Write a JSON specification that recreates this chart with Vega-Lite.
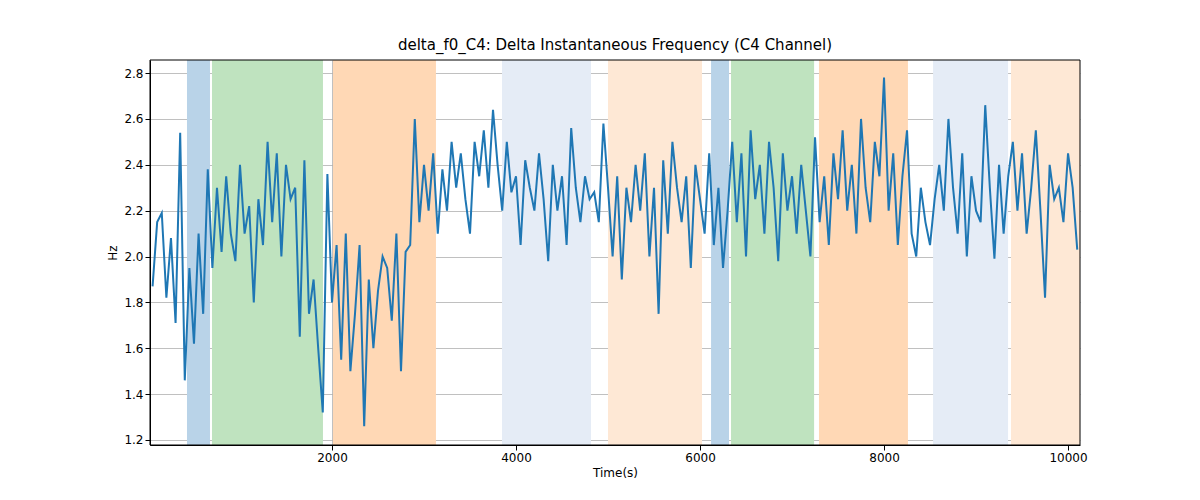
{
  "$schema": "https://vega.github.io/schema/vega-lite/v6.json",
  "width": 930,
  "height": 385,
  "autosize": {"type": "none"},
  "padding": {"left": 150, "top": 60, "right": 120, "bottom": 55},
  "background": "white",
  "title": {"text": "delta_f0_C4: Delta Instantaneous Frequency (C4 Channel)", "font": "DejaVu Sans", "fontSize": 15, "fontWeight": "normal", "color": "black", "offset": 7},
  "config": {
    "view": {"stroke": null},
    "axis": {"labelFont": "DejaVu Sans", "titleFont": "DejaVu Sans", "labelFontSize": 12, "titleFontSize": 12, "titleFontWeight": "normal", "labelColor": "black", "titleColor": "black", "gridColor": "#b0b0b0", "gridWidth": 0.8, "tickColor": "black", "domainColor": "black", "zindex": 1}
  },
  "datasets": {
    "bands": [
      {"a": 424, "b": 674, "kind": "blue"},
      {"a": 696, "b": 1902, "kind": "green"},
      {"a": 2011, "b": 3130, "kind": "orange"},
      {"a": 3848, "b": 4815, "kind": "lightblue"},
      {"a": 5000, "b": 6022, "kind": "lightorange"},
      {"a": 6120, "b": 6315, "kind": "blue"},
      {"a": 6337, "b": 7240, "kind": "green"},
      {"a": 7293, "b": 8260, "kind": "orange"},
      {"a": 8533, "b": 9348, "kind": "lightblue"},
      {"a": 9380, "b": 10130, "kind": "lightorange"}
    ],
    "series": [
      {"t":50,"v":1.87},{"t":100,"v":2.15},{"t":150,"v":2.19},{"t":200,"v":1.82},{"t":250,"v":2.08},{"t":300,"v":1.71},{"t":350,"v":2.54},{"t":400,"v":1.46},
      {"t":450,"v":1.95},{"t":500,"v":1.62},{"t":550,"v":2.1},{"t":600,"v":1.75},{"t":650,"v":2.38},{"t":700,"v":1.95},
      {"t":750,"v":2.3},{"t":800,"v":2.02},{"t":850,"v":2.35},{"t":900,"v":2.1},{"t":950,"v":1.98},{"t":1000,"v":2.4},{"t":1050,"v":2.1},{"t":1100,"v":2.22},{"t":1150,"v":1.8},{"t":1200,"v":2.25},{"t":1250,"v":2.05},{"t":1300,"v":2.5},{"t":1350,"v":2.15},{"t":1400,"v":2.45},{"t":1450,"v":2.0},{"t":1500,"v":2.4},{"t":1550,"v":2.25},{"t":1600,"v":2.3},{"t":1650,"v":1.65},{"t":1700,"v":2.42},{"t":1750,"v":1.75},{"t":1800,"v":1.9},{"t":1850,"v":1.6},{"t":1900,"v":1.32},
      {"t":1950,"v":2.36},{"t":2000,"v":1.8},{"t":2050,"v":2.05},{"t":2100,"v":1.55},{"t":2150,"v":2.1},{"t":2200,"v":1.5},{"t":2250,"v":1.75},{"t":2300,"v":2.05},{"t":2350,"v":1.26},{"t":2400,"v":1.9},{"t":2450,"v":1.6},{"t":2500,"v":1.85},{"t":2550,"v":2.0},{"t":2600,"v":1.95},{"t":2650,"v":1.72},{"t":2700,"v":2.1},{"t":2750,"v":1.5},{"t":2800,"v":2.02},
      {"t":2850,"v":2.05},{"t":2900,"v":2.6},{"t":2950,"v":2.15},{"t":3000,"v":2.4},{"t":3050,"v":2.2},{"t":3100,"v":2.45},{"t":3150,"v":2.1},{"t":3200,"v":2.38},{"t":3250,"v":2.2},{"t":3300,"v":2.5},{"t":3350,"v":2.3},{"t":3400,"v":2.45},{"t":3450,"v":2.25},{"t":3500,"v":2.1},{"t":3550,"v":2.5},{"t":3600,"v":2.35},{"t":3650,"v":2.55},{"t":3700,"v":2.3},{"t":3750,"v":2.64},{"t":3800,"v":2.4},
      {"t":3850,"v":2.2},{"t":3900,"v":2.5},{"t":3950,"v":2.28},{"t":4000,"v":2.35},{"t":4050,"v":2.05},{"t":4100,"v":2.42},{"t":4150,"v":2.3},{"t":4200,"v":2.2},{"t":4250,"v":2.45},{"t":4300,"v":2.25},{"t":4350,"v":1.98},{"t":4400,"v":2.4},{"t":4450,"v":2.2},{"t":4500,"v":2.35},{"t":4550,"v":2.05},{"t":4600,"v":2.56},{"t":4650,"v":2.3},{"t":4700,"v":2.15},{"t":4750,"v":2.35},{"t":4800,"v":2.25},
      {"t":4850,"v":2.28},{"t":4900,"v":2.15},{"t":4950,"v":2.58},{"t":5000,"v":2.3},{"t":5050,"v":2.0},{"t":5100,"v":2.35},{"t":5150,"v":1.9},{"t":5200,"v":2.3},{"t":5250,"v":2.15},{"t":5300,"v":2.4},{"t":5350,"v":2.2},{"t":5400,"v":2.45},{"t":5450,"v":2.0},{"t":5500,"v":2.3},{"t":5550,"v":1.75},{"t":5600,"v":2.42},{"t":5650,"v":2.1},{"t":5700,"v":2.5},{"t":5750,"v":2.3},{"t":5800,"v":2.15},{"t":5850,"v":2.35},{"t":5900,"v":1.95},{"t":5950,"v":2.4},{"t":6000,"v":2.25},
      {"t":6050,"v":2.1},{"t":6100,"v":2.45},{"t":6150,"v":2.05},{"t":6200,"v":2.3},{"t":6250,"v":1.95},{"t":6300,"v":2.2},{"t":6350,"v":2.5},{"t":6400,"v":2.15},{"t":6450,"v":2.45},{"t":6500,"v":2.0},{"t":6550,"v":2.55},{"t":6600,"v":2.25},{"t":6650,"v":2.4},{"t":6700,"v":2.1},{"t":6750,"v":2.5},{"t":6800,"v":2.3},{"t":6850,"v":1.98},{"t":6900,"v":2.45},{"t":6950,"v":2.2},{"t":7000,"v":2.35},
      {"t":7050,"v":2.1},{"t":7100,"v":2.4},{"t":7150,"v":2.2},{"t":7200,"v":2.0},{"t":7250,"v":2.52},{"t":7300,"v":2.15},{"t":7350,"v":2.35},{"t":7400,"v":2.05},{"t":7450,"v":2.45},{"t":7500,"v":2.25},{"t":7550,"v":2.55},{"t":7600,"v":2.2},{"t":7650,"v":2.4},{"t":7700,"v":2.1},{"t":7750,"v":2.6},{"t":7800,"v":2.3},{"t":7850,"v":2.15},{"t":7900,"v":2.5},{"t":7950,"v":2.35},{"t":8000,"v":2.78},
      {"t":8050,"v":2.2},{"t":8100,"v":2.45},{"t":8150,"v":2.05},{"t":8200,"v":2.35},{"t":8250,"v":2.55},{"t":8300,"v":2.1},{"t":8350,"v":2.0},{"t":8400,"v":2.3},{"t":8450,"v":2.15},{"t":8500,"v":2.05},{"t":8550,"v":2.25},{"t":8600,"v":2.4},{"t":8650,"v":2.2},{"t":8700,"v":2.6},{"t":8750,"v":2.3},{"t":8800,"v":2.1},{"t":8850,"v":2.45},{"t":8900,"v":2.0},{"t":8950,"v":2.35},{"t":9000,"v":2.2},
      {"t":9050,"v":2.15},{"t":9100,"v":2.66},{"t":9150,"v":2.3},{"t":9200,"v":1.99},{"t":9250,"v":2.4},{"t":9300,"v":2.1},{"t":9350,"v":2.35},{"t":9400,"v":2.5},{"t":9450,"v":2.2},{"t":9500,"v":2.45},{"t":9550,"v":2.1},{"t":9600,"v":2.3},{"t":9650,"v":2.55},{"t":9700,"v":2.2},{"t":9750,"v":1.82},{"t":9800,"v":2.4},{"t":9850,"v":2.25},{"t":9900,"v":2.3},{"t":9950,"v":2.15},{"t":10000,"v":2.45},{"t":10050,"v":2.3},{"t":10100,"v":2.03}
    ],
    "frame": [{"a": 22, "b": 10130}]
  },
  "layer": [
    {
      "data": {"name": "bands"},
      "mark": {"type": "rect"},
      "encoding": {
        "x": {"field": "a", "type": "quantitative"},
        "x2": {"field": "b"},
        "color": {"field": "kind", "type": "nominal", "legend": null,
          "scale": {"domain": ["blue", "green", "orange", "lightblue", "lightorange"], "range": ["#b9d3e8", "#bfe3bf", "#ffd8b5", "#e5ecf6", "#fee8d5"]}}
      }
    },
    {
      "data": {"name": "series"},
      "mark": {"type": "line", "color": "#1f77b4", "strokeWidth": 2},
      "encoding": {
        "x": {"field": "t", "type": "quantitative", "title": "Time(s)",
          "scale": {"domain": [22, 10130], "nice": false, "zero": false},
          "axis": {"values": [2000, 4000, 6000, 8000, 10000], "format": "d", "grid": true}},
        "y": {"field": "v", "type": "quantitative", "title": "Hz",
          "scale": {"domain": [1.178, 2.857], "nice": false, "zero": false},
          "axis": {"values": [1.2, 1.4, 1.6, 1.8, 2.0, 2.2, 2.4, 2.6, 2.8], "format": ".1f", "grid": true}}
      }
    },
    {
      "data": {"name": "frame"},
      "mark": {"type": "rect", "fill": null, "stroke": "black", "strokeWidth": 1},
      "encoding": {
        "x": {"field": "a", "type": "quantitative"},
        "x2": {"field": "b"},
        "y": {"datum": 1.178, "type": "quantitative"},
        "y2": {"datum": 2.857}
      }
    }
  ]
}
